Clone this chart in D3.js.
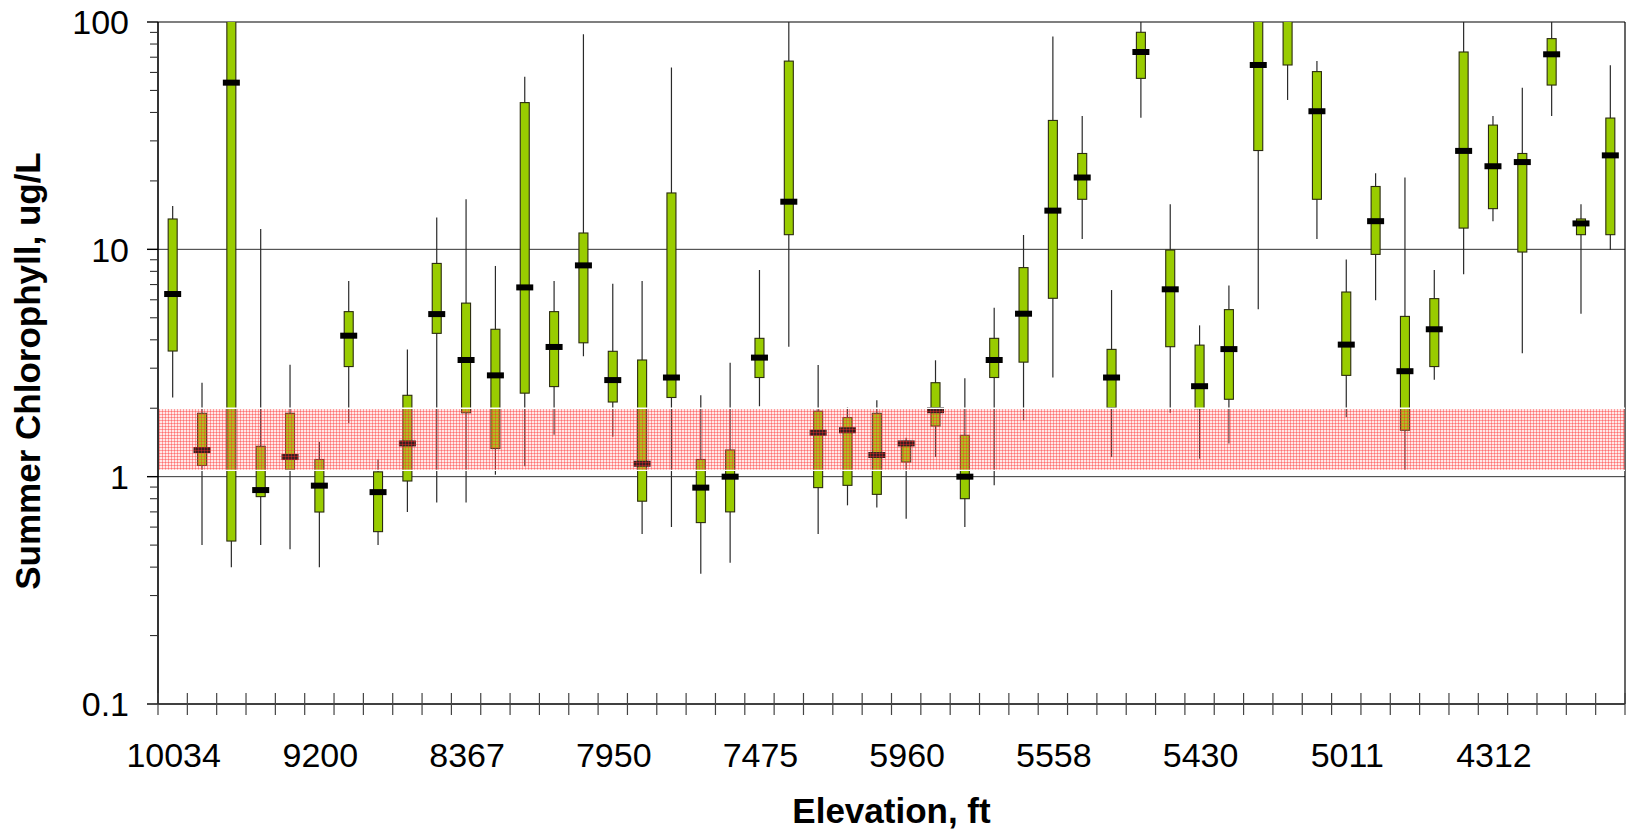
<!DOCTYPE html>
<html>
<head>
<meta charset="utf-8">
<script src="https://cdn.jsdelivr.net/npm/d3@7"></script>
<style>
  html, body { margin: 0; padding: 0; background: #fff; }
  svg { display: block; }
  text { font-family: "Liberation Sans", Arial, sans-serif; }
</style>
</head>
<body>
<svg id="chart" width="1634" height="835"></svg>
<script>
// ---- data ----
const categories = d3.range(50);               // 50 lakes/sites ordered by elevation
const tickLabels = ["10034", "9200", "8367", "7950", "7475", "5960", "5558", "5430", "5011", "4312"];
const tickLabelIndex = [0, 5, 10, 15, 20, 25, 30, 35, 40, 45];
const whiskerLow = [2.23,0.50,0.40,0.50,0.479,0.40,1.72,0.50,0.70,0.77,
                    0.77,1.02,1.11,1.53,3.39,1.50,0.56,0.60,0.374,0.418,
                    2.04,3.73,0.56,0.748,0.731,0.653,1.22,0.60,0.916,1.77,
                    2.73,11.1,1.22,37.9,1.91,1.20,1.40,5.45,45.4,11.1,
                    1.83,5.97,1.07,2.67,7.76,13.3,3.49,38.6,5.21,9.93];
const quart1 = [3.57,1.12,0.521,0.817,1.07,0.699,3.05,0.573,0.957,4.27,
                1.91,1.33,2.33,2.49,3.88,2.13,0.78,2.23,0.628,0.70,
                2.73,11.6,0.895,0.916,0.836,1.16,1.67,0.80,2.73,3.19,
                6.09,16.6,2.01,56.5,3.73,1.99,2.19,27.2,64.7,16.6,
                2.79,9.5,1.60,3.05,12.4,15.1,9.73,52.8,11.6,11.6];
const medians = [6.36,1.31,54.1,0.873,1.22,0.913,4.17,0.855,1.40,5.19,
                 3.26,2.79,6.8,3.72,8.5,2.66,1.14,2.73,0.895,1.0,
                 3.34,16.2,1.56,1.60,1.245,1.40,1.96,1.0,3.26,5.21,
                 14.8,20.7,2.73,73.8,6.67,2.50,3.64,64.7,130,40.5,
                 3.81,13.3,2.91,4.45,27.1,23.2,24.2,72.1,13.0,25.9];
const quart3 = [13.6,1.90,150,1.36,1.90,1.19,5.32,1.05,2.28,8.67,
                5.8,4.45,44.2,5.32,11.8,3.56,3.26,17.7,1.19,1.31,
                4.06,67.3,1.94,1.82,1.90,1.43,2.59,1.52,4.06,8.31,
                36.9,26.4,3.63,90.1,9.93,3.79,5.43,150,180,60.5,
                6.49,18.9,5.07,6.07,73.8,35.2,26.4,84.5,13.6,37.8];
const whiskerHigh = [15.5,2.59,200,12.3,3.11,1.42,7.26,1.19,3.63,13.8,
                     16.6,8.45,57.5,7.26,88.3,7.06,7.26,63,2.28,3.17,
                     8.11,100,3.10,2.02,2.17,1.485,3.25,2.71,5.54,11.56,
                     86.3,38.6,6.62,100,15.8,4.63,6.94,200,250,67.3,
                     9.03,21.6,20.7,8.11,100,38.6,51.4,100,15.8,64.5];
const yTickValues = [0.1, 1, 10, 100];
const targetBand = [1.066, 2.0];

(function () {
const rows = categories.map((c, i) => ({
  c, lo: whiskerLow[i], q1: quart1[i], med: medians[i], q3: quart3[i], hi: whiskerHigh[i]
}));

const svg = d3.select("#chart");
const pL = 158, pR = 1625, pT = 22, pB = 704;

const x = d3.scaleBand().domain(categories).range([pL, pR]).padding(0);
const y = d3.scaleLog().domain([0.1, 100]).range([pB, pT]);

const defs = svg.append("defs");
defs.append("clipPath").attr("id", "plotclip")
  .append("rect").attr("x", pL).attr("y", pT).attr("width", pR - pL).attr("height", pB - pT);

const pat = defs.append("pattern").attr("id", "hatch")
  .attr("patternUnits", "userSpaceOnUse").attr("width", 3).attr("height", 3);
pat.append("rect").attr("width", 3).attr("height", 3).attr("fill", "rgba(255,150,150,0.22)");
pat.append("rect").attr("width", 3).attr("height", 1).attr("fill", "rgba(255,40,40,0.38)");
pat.append("rect").attr("width", 1).attr("height", 3).attr("fill", "rgba(255,40,40,0.38)");

// gridlines at 1 and 10
svg.append("g").selectAll("line").data([1, 10]).join("line")
  .attr("x1", pL).attr("x2", pR)
  .attr("y1", d => y(d)).attr("y2", d => y(d))
  .attr("stroke", "#333").attr("stroke-width", 1);

// top and right border
svg.append("line").attr("x1", pL).attr("x2", pR).attr("y1", y(100)).attr("y2", y(100))
  .attr("stroke", "#555").attr("stroke-width", 1.5);
svg.append("line").attr("x1", pR).attr("x2", pR).attr("y1", pT).attr("y2", pB)
  .attr("stroke", "#000").attr("stroke-width", 1.2);

const plot = svg.append("g").attr("clip-path", "url(#plotclip)");
const cx = d => x(d.c) + x.bandwidth() / 2;
const boxW = 9, medW = 17, medH = 6;

// whiskers
plot.append("g").selectAll("line").data(rows).join("line")
  .attr("x1", cx).attr("x2", cx)
  .attr("y1", d => y(d.hi)).attr("y2", d => y(d.lo))
  .attr("stroke", "#2a2a2a").attr("stroke-width", 1.2);

// boxes
plot.append("g").selectAll("rect").data(rows).join("rect")
  .attr("x", d => cx(d) - boxW / 2).attr("width", boxW)
  .attr("y", d => y(d.q3)).attr("height", d => y(d.q1) - y(d.q3))
  .attr("fill", "#99cc00").attr("stroke", "#2b2b10").attr("stroke-width", 1.1);

// medians
plot.append("g").selectAll("rect").data(rows).join("rect")
  .attr("x", d => cx(d) - medW / 2).attr("width", medW)
  .attr("y", d => y(d.med) - medH / 2).attr("height", medH)
  .attr("fill", "#000");

// target band overlay
svg.append("rect")
  .attr("x", pL + 1).attr("width", pR - pL - 1)
  .attr("y", y(targetBand[1])).attr("height", y(targetBand[0]) - y(targetBand[1]))
  .attr("fill", "url(#hatch)");
svg.append("g").selectAll("line").data(targetBand).join("line")
  .attr("x1", pL + 1).attr("x2", pR)
  .attr("y1", d => y(d)).attr("y2", d => y(d))
  .attr("stroke", "#fff").attr("stroke-width", 1.3);

// y axis
const minorTicks = [];
[0.1, 1, 10].forEach(dec => { for (let k = 2; k <= 9; k++) minorTicks.push(dec * k); });
const yAxis = svg.append("g");
yAxis.append("line").attr("x1", pL).attr("x2", pL).attr("y1", pT).attr("y2", pB)
  .attr("stroke", "#000").attr("stroke-width", 1.6);
yAxis.selectAll("line.minor").data(minorTicks).join("line").attr("class", "minor")
  .attr("x1", pL - 8).attr("x2", pL).attr("y1", d => y(d)).attr("y2", d => y(d))
  .attr("stroke", "#333").attr("stroke-width", 1.1);
yAxis.selectAll("line.major").data(yTickValues).join("line").attr("class", "major")
  .attr("x1", pL - 11).attr("x2", pL).attr("y1", d => y(d)).attr("y2", d => y(d))
  .attr("stroke", "#000").attr("stroke-width", 1.4);
yAxis.selectAll("text").data(yTickValues).join("text")
  .attr("x", pL - 29).attr("y", d => y(d)).attr("dy", "0.36em")
  .attr("text-anchor", "end").attr("font-size", 34).attr("fill", "#000")
  .text(d => d3.format("~g")(d));

// x axis
const xAxis = svg.append("g");
xAxis.append("line").attr("x1", pL).attr("x2", pR).attr("y1", pB).attr("y2", pB)
  .attr("stroke", "#000").attr("stroke-width", 1.6);
const boundaries = categories.map(c => x(c)).concat([pR]);
xAxis.selectAll("line.tick").data(boundaries).join("line").attr("class", "tick")
  .attr("x1", d => d).attr("x2", d => d).attr("y1", pB - 11).attr("y2", pB + 11)
  .attr("stroke", "#444").attr("stroke-width", 1.2);
xAxis.selectAll("text").data(tickLabels).join("text")
  .attr("x", (d, i) => x(tickLabelIndex[i]) + x.bandwidth() / 2 + 1)
  .attr("y", 767)
  .attr("text-anchor", "middle").attr("font-size", 34).attr("fill", "#000")
  .text(d => d);

// axis titles
svg.append("text").attr("x", (pL + pR) / 2).attr("y", 823)
  .attr("text-anchor", "middle").attr("font-size", 35).attr("font-weight", "bold")
  .text("Elevation, ft");
svg.append("text").attr("transform", "translate(40,371) rotate(-90)")
  .attr("text-anchor", "middle").attr("font-size", 35).attr("font-weight", "bold")
  .text("Summer Chlorophyll, ug/L");
})();
</script>
</body>
</html>
